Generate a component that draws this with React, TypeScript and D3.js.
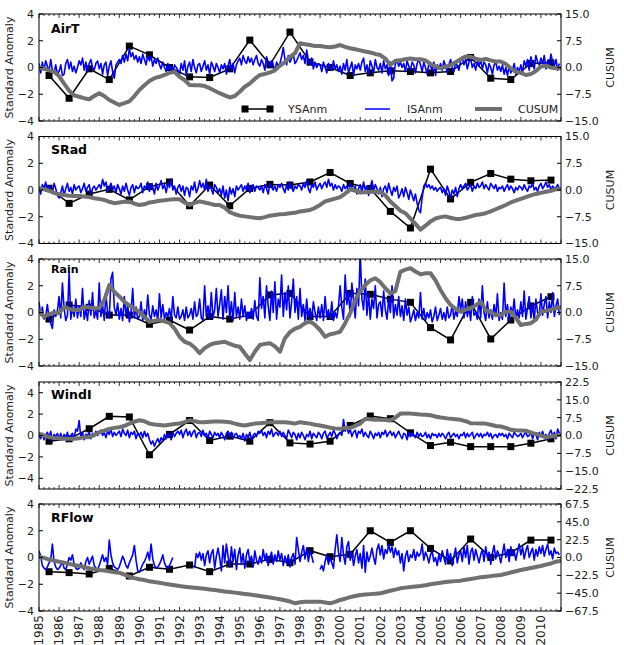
import * as d3 from "d3";

const W = 624;
const H = 645;
const LEFT = 39;
const RIGHT = 561;
const PANEL_TOPS = [14, 136.5, 259, 382, 504];
const PANEL_H = 107;

const YEAR_TICKS = [
  1985, 1986, 1987, 1988, 1989, 1990, 1991, 1992, 1993, 1994, 1995, 1996, 1997,
  1998, 1999, 2000, 2001, 2002, 2003, 2004, 2005, 2006, 2007, 2008, 2009, 2010,
];

// ---- AirT ----
const AIRT_YS = [-0.6, -2.3, -0.1, -0.9, 1.6, 0.95, 0.0, -0.7, -0.75, -0.1, 2.05, 0.2, 2.65,
  0.4, 0.0, -0.6, -0.4, -0.25, -0.3, -0.4, -0.3, 0.75, -0.8, -0.9, 0.3, 0.35];
const AIRT_IS = [
  0.3, -0.4, 0.4, -0.2, 0.5, 0.1, -0.3, 0.6, -0.2, -0.4, 0.2, -0.5,
  -0.3, 0.2, -0.6, -0.5, 0.3, 0.6, -0.1, 0.4, -0.3, 0.1, -0.4, 0.0,
  0.5, 0.2, 0.7, -0.2, 0.4, -0.3, 0.3, 0.6, 0.0, -0.2, 0.3, 0.5,
  -0.1, 0.3, -0.5, 0.2, 0.4, -0.6, 0.1, 0.5, -0.3, -0.8, 0.2, 0.4,
  0.6, 0.3, 0.9, 0.4, 1.0, 0.5, 1.4, 0.8, 1.1, 0.6, 0.9, 0.4,
  0.8, 0.3, 1.0, 0.6, 0.2, 0.9, 0.5, 0.8, 0.1, 0.6, 0.3, 0.7,
  0.2, -0.1, 0.4, 0.0, -0.3, 0.3, -0.2, 0.1, -0.4, 0.2, 0.0, -0.2,
  -0.5, 0.3, -0.2, 0.5, -0.6, 0.1, 0.4, -0.3, 0.6, 0.0, -0.4, 0.2,
  0.3, -0.3, 0.1, 0.5, -0.2, 0.2, -0.5, 0.4, 0.1, -0.3, 0.3, 0.0,
  -0.4, 0.2, -0.1, 0.3, -0.5, 0.1, 0.6, -0.2, 0.3, -0.4, 0.2, 0.5,
  0.7, 0.2, 0.9, 0.5, 0.3, 0.8, 0.4, 0.7, 0.2, 0.6, 0.9, 0.3,
  0.1, 0.6, 0.3, -0.2, 0.8, 0.4, 0.0, 0.5, 0.2, -0.3, 0.4, 0.1,
  0.3, 0.8, 1.5, 0.6, 0.2, 0.9, 0.4, 0.7, 1.0, 0.3, 0.5, 0.8,
  1.1, 0.6, 0.9, 0.3, 1.3, 0.5, 0.2, 0.7, -0.1, 0.4, 0.0, 0.3,
  0.2, -0.3, 0.4, 0.0, -0.4, 0.3, 0.1, -0.2, 0.5, -0.1, 0.2, -0.3,
  0.1, -0.5, 0.3, -0.2, 0.6, -0.4, 0.0, 0.4, -0.6, 0.2, -0.1, 0.3,
  -0.2, 0.4, 0.7, -0.3, 0.2, -0.5, 0.5, 0.1, -0.4, 0.6, 0.0, -0.2,
  0.3, -0.4, 0.5, -0.1, 0.2, -0.6, 0.4, -1.0, -0.8, 0.3, 0.5, 0.1,
  0.4, 0.0, 0.3, -0.3, 0.5, 0.1, -0.2, 0.4, 0.2, -0.4, 0.3, 0.6,
  0.2, -0.3, 0.4, 0.0, -0.5, 0.3, 0.1, -0.2, 0.4, -0.6, 0.2, -0.1,
  0.3, -0.2, 0.5, 0.1, -0.4, 0.2, 0.6, 0.0, -0.3, 0.4, 0.1, -0.2,
  0.5, 0.8, 0.2, 0.6, -0.1, 0.4, 0.7, 0.0, 0.3, -0.2, 0.5, 0.1,
  0.6, -0.1, 0.4, 0.2, -0.4, 0.3, 0.0, -0.5, 0.2, 0.4, -0.2, 0.1,
  -0.3, 0.2, -0.5, 0.0, -0.6, 0.1, -0.4, -0.2, 0.3, -0.5, 0.0, -0.3,
  0.2, -0.4, 0.5, 0.1, 0.6, -0.2, 0.8, 0.3, -0.1, 0.9, 0.4, 0.2,
  0.7, 0.3, 0.9, -0.1, 0.5, 0.2, 1.0, 0.4, 0.1, 0.6, -0.2, 0.3,
];
const AIRT_CU = [
  0, -0.3, -0.8, -1.2, -2.4, -4.5, -6.5, -7.8, -8.2, -8.6, -8.9, -8.0,
  -7.2, -8.0, -9.1, -9.8, -10.5, -10.0, -9.5, -8.0, -6.3, -5.0, -3.8, -3.0,
  -2.6, -2.1, -1.5, -1.2, -2.6, -3.5, -4.9, -5.0, -5.0, -5.2, -5.8, -6.5,
  -7.2, -7.8, -8.4, -8.0, -6.8, -5.4, -4.5, -3.2, -2.1, -1.8, -1.4, -0.8,
  0.5, 1.5, 3.0, 4.0, 6.8, 6.5, 6.3, 6.0, 6.0, 5.8, 5.7, 5.9,
  6.3, 5.8, 5.4, 5.1, 4.8, 4.5, 4.2, 3.8, 3.5, 2.5, 0.7, 1.9,
  2.0, 2.3, 2.5, 2.3, 2.3, 2.0, 1.0, 0.3, -0.2, 0.2, 0.7, 1.5,
  2.3, 3.1, 3.0, 2.5, 2.1, 2.4, 2.0, 1.7, 1.7, 1.0, -0.2, -1.2,
  -1.5, -2.1, -1.8, -1.0, 0.3, 0.5, 0.0, -0.2, -0.2,
];

// ---- SRad ----
const SRAD_YS = [0.13, -1.0, -0.3, 0.05, -0.74, 0.25, 0.6, -1.18, 0.37, -1.18, 0.12, 0.42, 0.37,
  0.6, 1.31, 0.49, 0.12, -1.6, -2.84, 1.56, -0.67, 0.57, 1.23, 0.81, 0.69, 0.74];
const SRAD_IS = [
  0.2, -0.3, 0.4, 0.1, 0.6, -0.1, 0.3, 0.0, -0.2, 0.5, 0.1, -0.4,
  -0.6, -0.2, 0.3, -0.4, 0.1, 0.5, -0.1, 0.2, -0.3, 0.4, 0.0, 0.2,
  0.3, -0.2, 0.1, 0.5, -0.1, 0.2, 0.4, -0.3, 0.1, 0.3, 0.0, 0.2,
  0.4, 0.1, 0.8, 0.3, 0.6, -0.1, 0.2, 0.5, 0.0, 0.3, -0.2, 0.4,
  0.1, -0.3, 0.3, -0.1, 0.5, 0.0, -0.4, 0.2, 0.4, -0.2, 0.3, 0.1,
  0.2, 0.5, -0.2, 0.3, 0.1, 0.6, -0.1, 0.4, 0.2, -0.3, 0.5, 0.0,
  0.3, 0.7, 0.1, 0.4, -0.2, 0.5, 0.2, 0.8, 0.0, 0.3, -0.3, 0.2,
  0.4, -0.1, 0.3, -0.4, 0.2, 0.1, -0.5, 0.3, 0.0, 0.6, -0.2, 0.1,
  0.7, 0.2, 0.5, 0.0, 0.8, -0.1, 0.3, 0.1, -0.3, 0.4, 0.2, -0.2,
  0.1, -0.4, 0.3, -0.6, 0.0, -0.8, 0.2, -0.3, 0.1, -0.5, 0.3, 0.0,
  0.2, 0.4, -0.1, 0.3, 0.0, 0.5, -0.2, 0.1, 0.4, -0.1, 0.3, 0.2,
  0.0, 0.3, -0.2, 0.4, 0.1, -0.3, 0.5, 0.2, 0.0, 0.3, -0.1, 0.4,
  0.2, 0.5, 0.1, -0.2, 0.4, 0.0, 0.6, 0.2, -0.1, 0.3, 0.1, 0.4,
  0.3, 0.0, 0.5, 0.2, 0.7, 0.1, -0.2, 0.4, 0.2, 0.6, 0.0, 0.3,
  0.5, 0.1, 0.4, 0.6, 0.2, 0.8, 0.3, 0.5, 0.0, 0.4, 0.1, 0.3,
  0.2, -0.1, 0.4, 0.1, 0.3, -0.2, 0.5, 0.2, 0.0, 0.3, -0.3, 0.1,
  0.4, -0.2, 0.6, 0.0, 0.3, -0.4, 0.2, 0.7, -0.1, 0.4, 0.1, -0.3,
  0.2, -0.5, 0.1, 0.3, -0.2, 0.5, 0.0, -0.4, 0.2, -0.1, 0.3, -0.6,
  -0.3, 0.1, -0.5, 0.2, -0.2, -0.7, 0.0, -0.4, -0.8, -0.3, -1.0, -1.5,
  -1.7, -0.6, 0.3, 0.5, 0.2, 0.4, 0.1, 0.3, 0.0, 0.2, -0.1, 0.1,
  0.2, -0.2, 0.1, -0.4, 0.3, -0.1, -0.6, 0.0, -0.3, 0.2, -0.5, 0.1,
  0.4, 0.1, 0.3, 0.5, 0.0, 0.2, 0.4, -0.1, 0.3, 0.1, 0.5, 0.2,
  0.3, 0.6, 0.1, 0.4, 0.2, 0.0, 0.5, 0.3, 0.1, 0.4, -0.1, 0.2,
  0.1, 0.3, -0.1, 0.2, 0.4, 0.0, 0.3, 0.1, -0.2, 0.2, 0.0, 0.3,
  0.2, 0.0, 0.4, 0.1, -0.1, 0.3, 0.2, 0.5, 0.0, 0.2, -0.1, 0.3,
  0.5, 0.1, 0.3, 0.6, 0.2, 0.4, 0.0, 0.3, 0.1, 0.2, 0.4, 0.1,
];
const SRAD_CU = [
  0.5, 0.2, -0.2, -0.8, -1.2, -1.4, -1.6, -1.7, -1.7, -1.8, -2.0, -2.3,
  -2.5, -2.8, -3.3, -3.7, -3.5, -3.3, -3.2, -3.8, -4.2, -4.0, -3.5, -3.3,
  -3.0, -2.9, -2.7, -2.6, -2.6, -3.5, -4.2, -3.6, -3.2, -3.5, -3.8, -4.2,
  -4.2, -5.0, -6.2, -6.8, -7.2, -7.4, -7.6, -7.8, -7.9, -7.6, -7.2, -7.0,
  -6.8, -6.7, -6.5, -6.4, -6.0, -5.8, -5.6, -5.0, -4.2, -3.2, -2.8, -2.4,
  -2.0, -1.0, 0.2, -0.2, -0.7, -0.6, -0.5, -0.5, -0.5, -1.5, -3.2, -4.5,
  -5.8, -6.5, -8.0, -9.5, -11.1, -10.0, -8.8, -8.0, -7.6, -7.4, -7.8, -8.1,
  -8.1, -7.8, -7.4, -7.0, -6.8, -6.5, -6.0, -5.4, -4.8, -4.2, -3.5, -3.0,
  -2.5, -2.0, -1.5, -1.1, -0.8, -0.5, -0.2, 0.2, 0.3,
];

// ---- Rain ----
const RAIN_YS = [-0.49, 0.56, 0.39, -0.19, -0.19, -0.88, -0.56, -1.31, -0.3, -0.49, -0.2, 1.31, 1.43,
  -0.3, -0.3, 1.43, 1.36, 1.0, 0.76, -1.13, -2.05, 0.76, -1.98, -0.56, 0.49, 1.18];
const RAIN_IS = [
  0.8, -0.2, 0.4, -0.5, -0.3, 0.6, -0.4, -0.8, -1.2, 0.2, -0.3, 0.1,
  1.2, -0.4, 2.2, 0.3, -0.6, -0.2, 3.0, -0.5, 0.4, -0.3, 1.0, -0.4,
  0.5, -0.3, 1.8, -0.5, 0.2, -0.6, 0.9, -0.2, 1.5, -0.4, 0.1, -0.5,
  2.2, -0.3, 0.6, -0.6, 1.4, 0.0, -0.4, 2.5, 3.0, 0.4, -0.2, 0.7,
  -0.5, 0.3, -0.6, 1.2, -0.3, 0.6, -0.7, 0.0, 1.8, -0.4, 0.4, -0.5,
  -0.3, 0.8, -0.6, 0.2, -0.4, 1.3, -0.2, -0.5, 0.5, -0.3, 0.2, -0.6,
  1.4, -0.4, 0.6, -0.5, 0.0, -0.3, 0.3, -0.6, 1.2, -0.2, -0.4, 0.4,
  -0.5, -0.3, 0.2, -0.6, 0.4, -0.4, -0.2, 0.3, -0.5, 0.8, -0.3, -0.1,
  1.0, -0.4, -0.6, 2.0, -0.3, 0.5, -0.5, 1.5, -0.4, 0.2, 1.8, -0.3,
  0.6, 1.7, -0.5, 1.2, 0.0, 2.0, -0.4, 0.8, -0.6, 1.5, -0.3, 0.4,
  -0.5, 1.0, -0.3, 0.5, -0.6, 0.0, -0.4, 0.3, -0.5, 0.9, -0.3, -0.6,
  2.6, 0.3, 1.2, -0.4, 2.0, 0.5, -0.6, 1.6, 0.0, 2.3, -0.5, 1.0,
  0.4, 2.8, -0.3, 1.5, 0.2, 2.0, -0.4, 0.8, 2.5, 0.0, 1.2, -0.5,
  1.8, -0.3, 0.6, -0.6, 1.0, -0.4, 0.3, -0.5, 0.8, 0.0, -0.6, 0.4,
  -0.4, 0.6, -0.6, 1.2, -0.3, 0.2, -0.5, 0.8, -0.6, 0.0, -0.4, 0.5,
  2.0, 0.4, -0.5, 2.8, 0.6, 1.5, -0.3, 2.2, 0.8, -0.4, 1.8, 0.5,
  4.5, 1.0, 0.2, 2.5, -0.2, 1.4, -0.5, 1.0, 0.3, 2.0, -0.4, 0.6,
  0.8, -0.3, 1.6, 0.2, -0.5, 1.0, 0.0, 2.0, -0.4, 0.6, -0.2, 1.2,
  -0.3, 0.5, -0.6, 1.0, -0.2, 0.4, -0.7, -0.3, 0.2, -0.6, 0.0, -0.4,
  1.5, -0.5, 0.3, -0.6, 0.0, -0.4, 0.2, -0.7, -0.3, 0.4, -0.6, -0.2,
  0.3, -0.5, 0.0, -0.6, 0.4, -0.4, -0.2, 0.6, -0.5, 0.1, -0.3, 1.2,
  0.2, 1.0, -0.4, 0.8, -0.3, 0.4, -0.6, 1.2, -0.2, 0.0, -0.5, 1.0,
  -0.4, 2.0, 0.0, -0.6, 0.8, -0.4, 0.2, -0.5, 0.6, -0.3, 1.4, -0.6,
  0.0, -0.5, 2.2, -0.3, 0.6, -0.6, 0.4, -0.2, 1.0, -0.5, 0.2, -0.4,
  0.8, -0.3, 1.6, -0.5, 0.3, 1.2, -0.4, 0.6, -0.6, 1.0, 0.0, -0.3,
  1.4, -0.2, 0.6, 1.2, -0.4, 0.8, 0.0, 1.5, -0.3, 0.5, 1.0, -0.2,
];
const RAIN_CU = [
  0.7, -1.2, -0.5, 0.0, -0.2, 1.6, 1.0, 0.7, 0.7, 1.6, 1.4, 1.2,
  1.2, 3.5, 7.7, 5.8, 4.5, 3.0, 2.0, 1.0, 0.2, -1.2, -2.6, -2.3,
  -2.1, -2.5, -3.0, -4.5, -6.8, -8.2, -8.7, -9.8, -11.4, -10.0, -9.1, -8.6,
  -8.4, -8.2, -8.8, -9.3, -9.6, -11.5, -13.3, -11.0, -9.1, -8.8, -8.6, -9.5,
  -11.0, -7.2, -5.5, -4.5, -4.0, -3.0, -2.5, -3.5, -4.9, -6.8, -6.1, -5.8,
  -5.4, -3.0, -0.2, 3.5, 6.0, 7.7, 9.0, 9.6, 8.5, 6.8, 5.4, 6.0,
  11.4, 12.0, 12.4, 11.5, 10.7, 11.0, 11.0, 9.0, 6.3, 4.0, 2.1, 1.0,
  0.2, 0.8, 1.2, 2.0, 3.0, 0.7, 0.0, -0.7, -0.7, 0.2, 0.2, -1.5,
  -3.5, -3.2, -3.0, -2.0, 0.2, 0.5, 0.8, 1.2, 1.5,
];

// ---- WindI ----
const WIND_YS = [-0.53, -0.31, 0.63, 1.79, 1.73, -1.8, 0.1, 1.4, -0.47, -0.06, -0.53, 1.2, -0.69,
  -0.8, -0.53, 0.94, 1.82, 1.57, 0.25, -0.94, -0.63, -1.04, -1.04, -1.04, -0.72, -0.31];
const WIND_IS = [
  0.1, -0.3, 0.2, -0.4, 0.0, 0.3, -0.2, 0.4, -0.5, 0.1, -0.1, 0.2,
  -0.3, 0.2, -0.4, 0.1, -0.2, 0.3, -0.5, 0.0, 0.2, -0.3, 0.6, 0.4,
  1.4, -0.2, 0.3, -0.4, 0.1, 0.0, 0.3, -0.3, 0.2, -0.1, 0.4, 0.0,
  0.2, 0.5, 0.0, 0.3, -0.2, 0.4, 0.1, 0.6, -0.1, 0.3, 0.0, 0.2,
  0.4, -0.1, 0.6, 0.2, 0.0, 0.5, -0.2, 0.3, 0.1, 0.4, -0.3, 0.2,
  0.0, 0.3, -0.2, 0.4, -0.1, 0.2, -0.4, -0.8, -0.5, -1.0, -0.6, -0.3,
  -0.7, -0.2, -0.5, 0.1, -0.3, 0.2, 0.0, -0.4, 0.3, -0.1, 0.2, 0.4,
  0.1, 0.5, -0.2, 0.3, 0.6, 0.0, 0.4, -0.1, 0.3, 0.5, -0.2, 0.2,
  0.3, -0.1, 0.5, 0.0, 0.2, -0.3, 0.4, 0.1, -0.2, 0.3, 0.0, 0.2,
  -0.2, 0.3, 0.0, -0.4, 0.2, 0.4, -0.1, 0.3, -0.3, 0.1, 0.2, -0.2,
  0.0, -0.3, 0.2, -0.5, 0.1, -0.2, 0.3, -0.4, 0.0, 0.2, -0.1, 0.4,
  0.2, 0.5, 0.0, 0.3, -0.2, 0.4, 0.1, 0.6, -0.1, 0.2, 0.3, 0.0,
  0.4, -0.1, 0.3, 0.0, -0.3, 0.5, 0.2, -0.2, 0.3, 0.1, -0.4, 0.2,
  -0.2, 0.3, 0.0, -0.4, 0.1, -0.1, 0.4, -0.3, 0.2, 0.0, -0.2, 0.3,
  0.1, -0.3, 0.2, 0.4, -0.2, 0.0, 0.3, -0.1, 0.5, 0.2, -0.3, 0.1,
  0.3, 0.0, 1.5, 0.4, 0.8, 0.2, 0.6, -0.1, 0.3, 0.5, -0.2, 0.4,
  0.2, 0.6, -0.1, 0.3, 0.0, -0.2, 0.4, 0.1, -0.3, 0.2, 0.0, 0.3,
  -0.2, 0.3, 0.1, 0.5, -0.1, 0.2, 0.4, 0.0, 0.3, -0.2, 0.1, 0.4,
  0.0, -0.3, 0.2, 0.1, -0.4, 0.3, -0.1, 0.2, 0.0, -0.2, 0.3, -0.1,
  0.2, -0.1, 0.0, 0.3, -0.2, 0.1, -0.3, 0.2, 0.0, 0.1, -0.2, 0.2,
  -0.1, 0.2, 0.0, -0.3, 0.1, 0.3, -0.2, 0.0, 0.2, -0.1, 0.1, -0.3,
  0.1, 0.0, 0.3, -0.2, 0.2, -0.1, 0.1, 0.3, -0.3, 0.0, 0.2, -0.1,
  0.2, -0.2, 0.1, 0.0, 0.3, -0.1, 0.2, -0.3, 0.0, 0.1, -0.2, 0.2,
  0.0, 0.2, -0.1, 0.1, -0.3, 0.2, 0.0, -0.2, 0.3, 0.1, -0.1, 0.0,
  0.2, -0.2, 0.1, 0.3, -0.1, 0.0, 0.4, -0.3, 0.2, 0.1, -0.4, 0.3,
  0.0, 0.4, -0.2, 0.1, -0.4, 0.2, 0.5, -0.1, 0.3, -0.3, 0.6, 0.2,
];
const WIND_CU = [
  0.7, 0.0, -0.7, -1.0, -1.2, -1.4, -1.4, -1.4, -1.2, -0.7, -0.7, 0.2,
  1.4, 2.0, 2.8, 3.2, 3.5, 4.0, 5.0, 5.8, 6.4, 6.0, 5.0, 4.6,
  4.4, 4.2, 4.5, 4.8, 5.0, 5.6, 6.4, 6.0, 5.6, 5.6, 5.8, 5.9,
  5.9, 5.8, 5.6, 5.0, 4.5, 4.2, 4.6, 5.0, 5.2, 5.4, 5.6, 5.6,
  5.6, 5.6, 5.4, 5.0, 5.6, 5.3, 5.0, 4.5, 4.2, 3.8, 3.3, 3.0,
  2.8, 3.2, 3.2, 4.0, 5.0, 7.0, 6.8, 6.6, 6.6, 6.5, 6.4, 7.5,
  9.2, 9.2, 9.2, 9.0, 8.8, 8.7, 8.5, 8.0, 7.6, 7.3, 7.0, 6.8,
  6.6, 6.0, 5.2, 5.1, 5.0, 5.0, 4.5, 4.0, 3.8, 3.2, 2.4, 2.2,
  2.1, 2.0, 1.2, 0.7, 0.0, -0.7, -0.4, 0.0, 0.3,
];

// ---- RFlow ----
const RFLOW_YS = [-1.06, -1.13, -1.23, -0.81, -1.38, -0.73, -0.88, -0.56, -1.06, -0.49, -0.49, -0.14, -0.39,
  0.51, 0.06, 0.24, 2.0, 1.13, 2.0, 0.68, -0.26, 1.38, 0.01, 0.36, 1.3, 1.3];
const RFLOW_IS = [
  0.5, 0.1, -0.6, -0.8, -0.9, -0.7, -0.4, -0.2, 1.0, -0.3, -0.7, -0.9,
  -0.8, -0.6, -0.3, -0.8, -0.9, -0.5, 0.0, -0.2, 0.2, -0.5, -0.8, -0.9,
  -0.8, -0.4, -0.7, -0.9, -0.3, 0.0, -0.5, -0.2, 0.1, -0.6, -0.8, -0.9,
  -0.6, -0.2, 0.2, -0.3, 0.0, -0.5, 1.3, 0.2, -0.4, -0.7, -0.8, -0.9,
  -0.7, -0.3, 0.1, -0.2, -0.6, -0.8, -0.4, -0.1, 0.2, 0.9, -0.2, -1.0,
  -1.1, -0.8, -0.5, -0.3, 0.0, 0.4, -0.2, 1.0, -0.1, -0.6, -0.8, -0.7,
  -0.5, -0.2, 0.2, -0.4, -0.7, -0.8, -0.6, -0.3, 0.0, null, null, null,
  null, null, null, null, null, null, null, null, null, -0.8, 0.3, 0.0,
  0.4, -0.2, 0.3, -0.6, 0.2, 0.5, -0.4, 0.3, 0.6, -0.8, 0.1, 0.7,
  0.0, -1.0, 0.9, -0.4, 1.0, 0.1, -0.7, 0.8, -0.3, 0.6, -0.9, 0.2,
  0.7, -0.5, 0.3, -0.8, 0.2, 0.6, -0.3, 0.1, -0.7, 0.5, -0.2, -0.5,
  0.1, -0.4, 0.6, -0.2, 0.3, -0.6, 0.0, 0.4, -0.5, 0.2, -0.3, 0.5,
  -0.2, 0.3, -0.6, 0.1, -0.4, 0.2, -0.7, 0.0, 0.3, -0.5, 1.5, 0.6,
  -0.3, 0.4, 0.9, -0.1, 0.7, -0.3, 0.5, 0.1, -0.4, null, null, null,
  -0.9, -0.6, -1.0, -0.3, 0.2, -0.5, 0.0, -0.4, -0.8, 0.6, 1.7, 0.4,
  -0.3, 1.5, 0.2, -0.5, 0.8, 1.2, -0.2, 0.4, -0.6, 0.1, 0.6, -0.4,
  0.3, -0.8, 0.9, -1.1, 0.4, -0.3, 0.1, 0.7, 0.0, -0.5, 0.6, 1.0,
  0.2, 0.9, -0.1, 0.6, 0.3, 1.0, 0.4, 0.8, 0.0, 0.7, 0.2, 0.5,
  -0.4, 0.3, -1.0, 0.1, 0.5, -0.3, 0.2, 0.0, 0.6, -0.2, 0.4, 0.1,
  0.3, 1.0, -0.2, 0.4, 0.1, -0.4, 0.2, 0.5, -0.3, 0.0, -0.6, 0.2,
  -0.3, 0.5, 0.0, -0.5, 0.6, -0.2, 0.3, -0.6, 0.1, 0.7, -0.4, 0.2,
  0.5, -0.3, 0.8, 0.0, 0.9, -0.5, 0.4, 0.7, -0.2, 0.6, 0.1, -0.4,
  0.2, 0.6, -0.3, 0.8, 0.0, 0.4, -0.5, 0.3, 0.9, -0.1, 0.5, 0.2,
  -0.4, 0.3, 1.0, 0.0, 0.6, -0.3, 0.8, 0.2, 0.5, -0.2, 0.4, 1.0,
  0.2, 0.8, -0.1, 0.5, 0.9, 0.0, 0.4, 0.7, -0.2, 0.6, 0.1, 0.8,
  0.3, 0.9, 0.1, 0.6, 1.0, 0.2, 0.5, -0.1, 0.7, 0.3, 0.4, 0.2,
];
const RFLOW_CU = [
  1, -0.5, -2.5, -4, -5.3, -6.5, -8, -9.5, -10.7, -12, -13.5, -14.8,
  -15.8, -16.5, -17.5, -18.5, -19.2, -21.5, -24, -26, -27.5, -28.5, -30, -31,
  -31.8, -33, -34, -35, -36, -36.8, -37.5, -38.2, -38.9, -39.5, -40.3, -41,
  -41.9, -42.8, -43.5, -44.3, -45.2, -46, -46.8, -47.7, -48.5, -49.5, -50.5, -51.6,
  -52.7, -54, -55.5, -57.8, -56.5, -55.7, -55.7, -55.7, -55.7, -56.8, -57.8, -56,
  -53.6, -52, -50, -48.5, -47.3, -46.8, -46.2, -45.7, -45.2, -43.5, -42, -40.5,
  -38.9, -38, -37.2, -36.5, -36, -35, -33.8, -32.8, -31.8, -31, -30.4, -29.8,
  -29.2, -28, -27, -26, -25, -24.2, -23.5, -22.8, -22, -20.5, -19, -17.4,
  -15.8, -14.5, -13.3, -12, -10.7, -9, -7.5, -5.3, -4,
];

const PANELS = [
  { name: "AirT", ys: AIRT_YS, is: AIRT_IS, cu: AIRT_CU, left: [-4, 4], leftTicks: [-4, -2, 0, 2, 4], right: [-15, 15], rightTicks: [-15, -7.5, 0, 7.5, 15], labelDy: 19, labelSize: 12.5 },
  { name: "SRad", ys: SRAD_YS, is: SRAD_IS, cu: SRAD_CU, left: [-4, 4], leftTicks: [-4, -2, 0, 2, 4], right: [-15, 15], rightTicks: [-15, -7.5, 0, 7.5, 15], labelDy: 17, labelSize: 12.5 },
  { name: "Rain", ys: RAIN_YS, is: RAIN_IS, cu: RAIN_CU, left: [-4, 4], leftTicks: [-4, -2, 0, 2, 4], right: [-15, 15], rightTicks: [-15, -7.5, 0, 7.5, 15], labelDy: 14, labelSize: 11 },
  { name: "WindI", ys: WIND_YS, is: WIND_IS, cu: WIND_CU, left: [-5, 5], leftTicks: [-4, -2, 0, 2, 4], right: [-22.5, 22.5], rightTicks: [-22.5, -15, -7.5, 0, 7.5, 15, 22.5], labelDy: 17, labelSize: 12.5 },
  { name: "RFlow", ys: RFLOW_YS, is: RFLOW_IS, cu: RFLOW_CU, left: [-4, 4], leftTicks: [-4, -2, 0, 2, 4], right: [-67.5, 67.5], rightTicks: [-67.5, -45, -22.5, 0, 22.5, 45, 67.5], labelDy: 18, labelSize: 12.5 },
];

const FONT = "DejaVu Sans, sans-serif";
const GRAY = "#707070";
const BLUE = "#0000ff";

const x = d3.scaleLinear().domain([1985, 2011]).range([LEFT, RIGHT]);
const quarterTicks = d3.range(1985, 2011.001, 0.25);
const fmtRight = d3.format(".1f");
const fmtLeft = d3.format("d");

function Panel({ cfg, top, index }: { cfg: (typeof PANELS)[number]; top: number; index: number }) {
  const bottom = top + PANEL_H;
  const yL = d3.scaleLinear().domain(cfg.left).range([bottom, top]);
  const yR = d3.scaleLinear().domain(cfg.right).range([bottom, top]);

  const isLine = d3
    .line<number | null>()
    .defined((v) => v !== null)
    .x((_, i) => x(1985 + i / 12))
    .y((v) => yL(v as number));
  const ysLine = d3
    .line<number>()
    .x((_, i) => x(1985.5 + i))
    .y((v) => yL(v));
  const cuLine = d3
    .line<number>()
    .x((_, i) => x(1985 + i * 0.25))
    .y((v) => yR(v));

  const clipId = `clip-${index}`;
  const midY = (top + bottom) / 2;

  return (
    <g>
      <defs>
        <clipPath id={clipId}>
          <rect x={LEFT} y={top} width={RIGHT - LEFT} height={PANEL_H} />
        </clipPath>
      </defs>
      <g clipPath={`url(#${clipId})`}>
        <path d={ysLine(cfg.ys) ?? ""} fill="none" stroke="#000" strokeWidth={1.5} />
        {cfg.ys.map((v, i) => (
          <rect key={i} x={x(1985.5 + i) - 3.5} y={yL(v) - 3.5} width={7} height={7} fill="#000" />
        ))}
        <path d={isLine(cfg.is) ?? ""} fill="none" stroke={BLUE} strokeWidth={1.6} strokeLinejoin="round" />
        <path d={cuLine(cfg.cu) ?? ""} fill="none" stroke={GRAY} strokeWidth={4} strokeLinejoin="round" strokeLinecap="round" />
      </g>

      {/* frame */}
      <rect x={LEFT} y={top} width={RIGHT - LEFT} height={PANEL_H} fill="none" stroke="#000" strokeWidth={1} />

      {/* x ticks top and bottom, inward */}
      {quarterTicks.map((t) => {
        const major = Math.abs(t - Math.round(t)) < 1e-6;
        const len = major ? 4 : 2;
        return (
          <g key={t}>
            <line x1={x(t)} x2={x(t)} y1={top} y2={top + len} stroke="#000" strokeWidth={0.8} />
            <line x1={x(t)} x2={x(t)} y1={bottom} y2={bottom - len} stroke="#000" strokeWidth={0.8} />
          </g>
        );
      })}

      {/* left axis */}
      {cfg.leftTicks.map((t) => (
        <g key={`l${t}`}>
          <line x1={LEFT} x2={LEFT + 4} y1={yL(t)} y2={yL(t)} stroke="#000" strokeWidth={1} />
          <text x={LEFT - 5} y={yL(t)} dy="0.35em" textAnchor="end" fontSize={11} fontFamily={FONT} fill="#222">
            {fmtLeft(t)}
          </text>
        </g>
      ))}

      {/* right axis */}
      {cfg.rightTicks.map((t) => (
        <g key={`r${t}`}>
          <line x1={RIGHT} x2={RIGHT - 4} y1={yR(t)} y2={yR(t)} stroke="#000" strokeWidth={1} />
          <text x={RIGHT + 4} y={yR(t)} dy="0.35em" textAnchor="start" fontSize={11} fontFamily={FONT} fill="#222">
            {fmtRight(t)}
          </text>
        </g>
      ))}

      <text x={51} y={top + cfg.labelDy} fontSize={cfg.labelSize} fontWeight="bold" fontFamily={FONT} fill="#000">
        {cfg.name}
      </text>

      <text transform={`translate(9,${midY}) rotate(-90)`} textAnchor="middle" dy="0.35em" fontSize={11} fontFamily={FONT} fill="#222">
        Standard Anomaly
      </text>
      <text transform={`translate(610,${midY}) rotate(-90)`} textAnchor="middle" dy="0.35em" fontSize={11} fontFamily={FONT} fill="#222">
        CUSUM
      </text>
    </g>
  );
}

function Legend() {
  const ly = 109;
  return (
    <g fontFamily={FONT} fontSize={11} fill="#222">
      <line x1={245} x2={270} y1={ly} y2={ly} stroke="#000" strokeWidth={1.5} />
      <rect x={245 - 3.5} y={ly - 3.5} width={7} height={7} fill="#000" />
      <rect x={270 - 3.5} y={ly - 3.5} width={7} height={7} fill="#000" />
      <text x={288} y={ly} dy="0.35em">YSAnm</text>
      <line x1={365} x2={390} y1={ly} y2={ly} stroke={BLUE} strokeWidth={1.5} />
      <text x={407} y={ly} dy="0.35em">ISAnm</text>
      <line x1={475} x2={502} y1={ly} y2={ly} stroke={GRAY} strokeWidth={4} />
      <text x={518} y={ly} dy="0.35em">CUSUM</text>
    </g>
  );
}

export default function App() {
  const lastBottom = PANEL_TOPS[PANEL_TOPS.length - 1] + PANEL_H;
  return (
    <svg width={W} height={H} style={{ position: "absolute", left: 0, top: 0, background: "#fff" }}>
      <rect width={W} height={H} fill="#fff" />
      {PANELS.map((cfg, i) => (
        <Panel key={cfg.name} cfg={cfg} top={PANEL_TOPS[i]} index={i} />
      ))}
      <Legend />
      {YEAR_TICKS.map((yr) => (
        <text
          key={yr}
          transform={`translate(${x(yr)},${lastBottom + 4}) rotate(-90)`}
          textAnchor="end"
          dy="0.35em"
          fontSize={12}
          fontFamily={FONT}
          fill="#222"
        >
          {yr}
        </text>
      ))}
    </svg>
  );
}
